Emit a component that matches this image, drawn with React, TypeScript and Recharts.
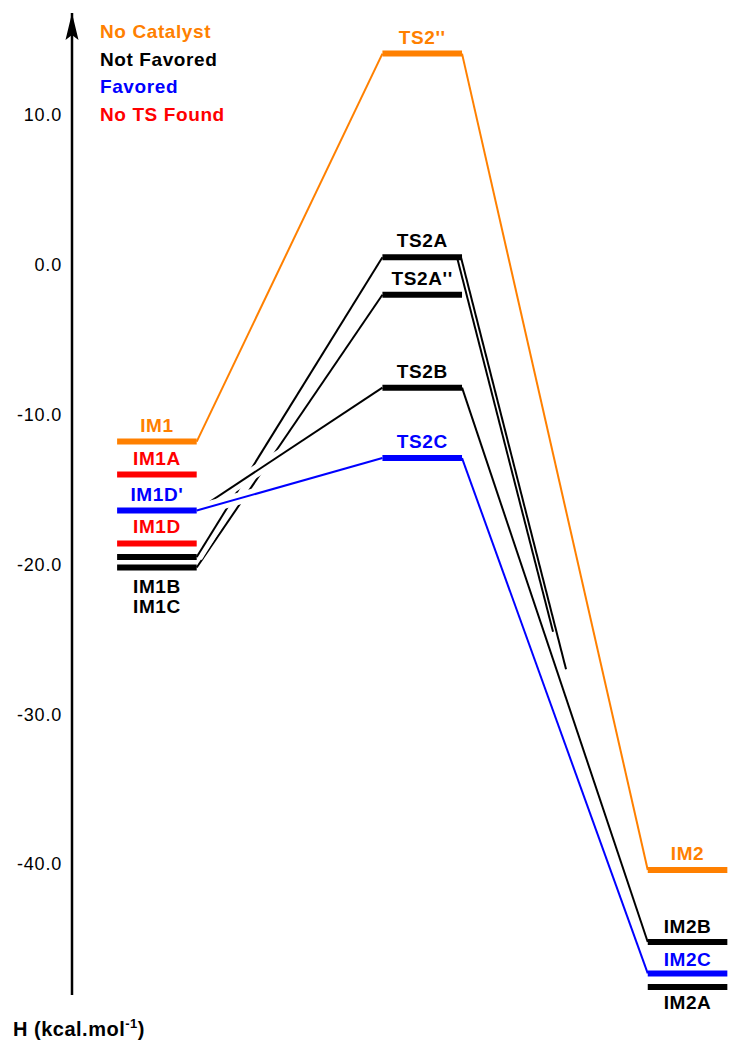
import React from 'react';
import { ComposedChart, Line, XAxis, YAxis, LabelList, Legend, ReferenceDot } from 'recharts';

// energy diagram, values in kcal/mol
const levelNames = ['IM1', 'IM1A', "IM1D'", 'IM1D', 'IM1B', 'IM1C', "TS2''", 'TS2A', "TS2A''", 'TS2B', 'TS2C', 'IM2', 'IM2B', 'IM2C', 'IM2A'];
const levelEnergies = [-11.8, -14.0, -16.4, -18.6, -19.5, -20.2, 14.1, 0.5, -2.0, -8.2, -12.9, -40.4, -45.2, -47.3, -48.2];
const levelColumns = [0, 0, 0, 0, 0, 0, 1, 1, 1, 1, 1, 2, 2, 2, 2];
const levelGroups = ['noCat', 'noTS', 'fav', 'noTS', 'notFav', 'notFav', 'noCat', 'notFav', 'notFav', 'notFav', 'fav', 'noCat', 'notFav', 'fav', 'notFav'];

// pathways between levels (right end of one -> left end of next)
const pathFrom = ['IM1', "TS2''", 'IM1C', 'IM1B', "IM1D'", "IM1D'", 'TS2B', 'TS2C'];
const pathTo = ["TS2''", 'IM2', "TS2A''", 'TS2A', 'TS2B', 'TS2C', 'IM2B', 'IM2C'];
const pathGroups = ['noCat', 'noCat', 'notFav', 'notFav', 'notFav', 'fav', 'notFav', 'fav'];
const pathGapped = [false, false, false, true, true, true, false, false];

// the two descending lines from TS2A that stop half way
const openFrom = [[1.146, 0.5], [1.131, 0.5]];
const openTo = [[1.542, -27.0], [1.493, -24.5]];

const legendLabels = ['No Catalyst', 'Not Favored', 'Favored', 'No TS Found'];
const legendGroups = ['noCat', 'notFav', 'fav', 'noTS'];

const yTicks = [10, 0, -10, -20, -30, -40];

const COLORS: Record<string, string> = {
  noCat: '#ff8000',
  notFav: '#000000',
  fav: '#0000ff',
  noTS: '#ff0000',
};

const FONT = '"Liberation Sans", Arial, sans-serif';
const HALF = 0.15;
const X_DOMAIN = [-0.32, 2.16];
const Y_DOMAIN = [-48.74, 16.81];

// label baseline offsets from the bar (px); default sits above the bar
const labelDy: Record<string, number> = { IM1B: 36, IM1C: 46, IM2A: 22, IM2C: -7, IM2B: -9 };

const idx = (name: string) => levelNames.indexOf(name);

const levelLabel = (color: string, dy: number) => (p: any) => {
  if (!p.value) return null;
  const x = p.x ?? p.viewBox?.x;
  const y = p.y ?? p.viewBox?.y;
  return (
    <text x={x} y={y + dy} textAnchor="middle" fill={color} fontFamily={FONT} fontWeight="bold" fontSize={19} letterSpacing={0.6}>
      {p.value}
    </text>
  );
};

const renderTitle = (p: any) => {
  const vb = p.viewBox || { x: 0, y: 13, width: 72, height: 982 };
  return (
    <text x={vb.x + 13} y={vb.y + vb.height + 41} fill="#000" fontFamily={FONT} fontWeight="bold" fontSize={20} letterSpacing={0.5}>
      H (kcal.mol
      <tspan fontSize={13} dy={-8}>-1</tspan>
      <tspan dy={8}>)</tspan>
    </text>
  );
};

const renderArrow = (p: any) => {
  const { cx, cy } = p;
  return <path d={`M${cx},${cy} L${cx + 6.5},${cy + 27} L${cx},${cy + 22} L${cx - 6.5},${cy + 27} Z`} fill="#000" />;
};

const renderLegend = () => (
  <div>
    {legendLabels.map((l, i) => (
      <div key={l} style={{ color: COLORS[legendGroups[i]], fontFamily: FONT, fontWeight: 'bold', fontSize: 19, lineHeight: '27.7px', letterSpacing: 0.6, whiteSpace: 'nowrap' }}>
        {l}
      </div>
    ))}
  </div>
);

const seg = (x1: number, y1: number, x2: number, y2: number) => [
  { x: x1, y: y1 },
  { x: x2, y: y2 },
];

export default function App() {
  const lines: React.ReactNode[] = [];

  const pathSeg = (i: number) => {
    const a = idx(pathFrom[i]);
    const b = idx(pathTo[i]);
    return seg(levelColumns[a] + HALF, levelEnergies[a], levelColumns[b] - HALF, levelEnergies[b]);
  };

  const common = { dataKey: 'y', type: 'linear' as const, dot: false, activeDot: false, isAnimationActive: false, legendType: 'none' as const };

  // draw order: plain paths, then gapped paths with white halo so crossings break lines below
  pathFrom.forEach((_, i) => {
    if (pathGapped[i]) return;
    if (pathGroups[i] === 'notFav' && pathFrom[i] === 'TS2B') return;
    if (pathGroups[i] === 'fav' && pathFrom[i] === 'TS2C') return;
    lines.push(<Line key={`p${i}`} {...common} data={pathSeg(i)} stroke={COLORS[pathGroups[i]]} strokeWidth={2} />);
  });
  pathFrom.forEach((_, i) => {
    if (!pathGapped[i]) return;
    lines.push(<Line key={`h${i}`} {...common} data={pathSeg(i)} stroke="#fff" strokeWidth={12} />);
    lines.push(<Line key={`g${i}`} {...common} data={pathSeg(i)} stroke={COLORS[pathGroups[i]]} strokeWidth={2} />);
  });
  pathFrom.forEach((_, i) => {
    if (pathFrom[i] !== 'TS2B' && pathFrom[i] !== 'TS2C') return;
    lines.push(<Line key={`d${i}`} {...common} data={pathSeg(i)} stroke={COLORS[pathGroups[i]]} strokeWidth={2} />);
  });
  openFrom.forEach((f, i) => {
    lines.push(<Line key={`o${i}`} {...common} data={seg(f[0], f[1], openTo[i][0], openTo[i][1])} stroke="#000" strokeWidth={2} />);
  });

  // levels on top
  levelNames.forEach((name, i) => {
    const c = levelColumns[i];
    const e = levelEnergies[i];
    const color = COLORS[levelGroups[i]];
    lines.push(
      <Line
        key={`l${i}`}
        {...common}
        data={[{ x: c - HALF, y: e }, { x: c, y: e, name }, { x: c + HALF, y: e }]}
        stroke={color}
        strokeWidth={6}
        strokeLinecap="butt"
      >
        <LabelList dataKey="name" content={levelLabel(color, labelDy[name] ?? -10)} />
      </Line>
    );
  });

  return (
    <div style={{ position: 'absolute', left: 0, top: 0, width: 730, height: 1042, background: '#fff' }}>
      <ComposedChart width={730} height={1042} margin={{ top: 13, right: 0, bottom: 47, left: 0 }}>
        <XAxis type="number" dataKey="x" domain={X_DOMAIN} allowDataOverflow hide />
        <YAxis
          type="number"
          domain={Y_DOMAIN}
          allowDataOverflow
          ticks={yTicks}
          width={72}
          tickLine={false}
          tickSize={0}
          tickMargin={10}
          tickFormatter={(v: number) => v.toFixed(1)}
          axisLine={{ stroke: '#000', strokeWidth: 2.5 }}
          tick={{ fill: '#000', fontSize: 18, fontFamily: FONT, letterSpacing: 0.8 }}
          label={{ content: renderTitle }}
        />
        {lines}
        <ReferenceDot x={X_DOMAIN[0]} y={Y_DOMAIN[1]} r={0} ifOverflow="visible" shape={renderArrow} />
        <Legend
          layout="horizontal"
          verticalAlign="middle"
          align="center"
          content={renderLegend}
          wrapperStyle={{ position: 'absolute', top: 18, left: 100, width: 'auto', height: 'auto' }}
        />
      </ComposedChart>
    </div>
  );
}
